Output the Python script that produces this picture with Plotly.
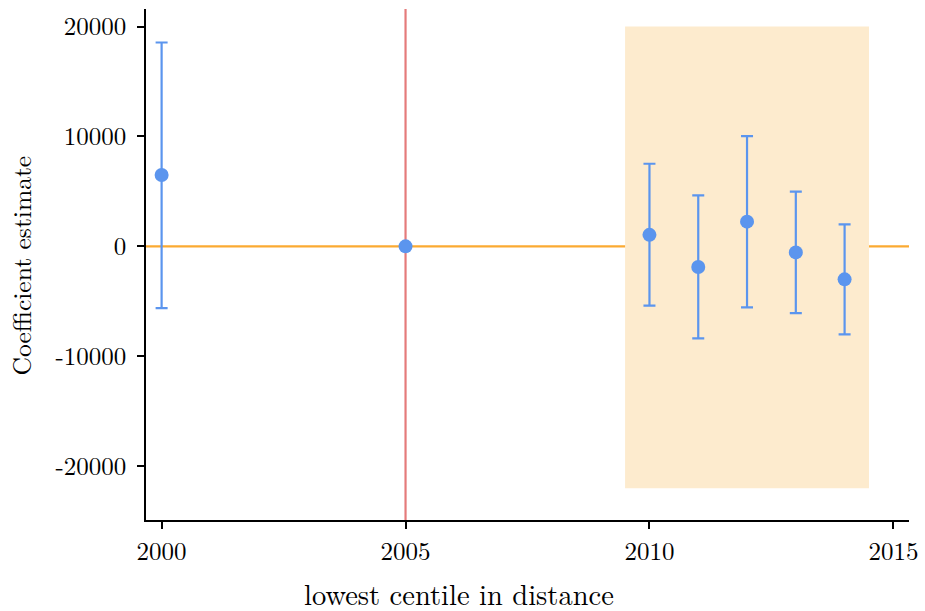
import plotly.graph_objects as go

years = [2000, 2005, 2010, 2011, 2012, 2013, 2014]
estimate = [6500, 0, 1050, -1880, 2250, -550, -3000]
ci_low = [-5620, 0, -5400, -8370, -5550, -6070, -8010]
ci_high = [18550, 0, 7520, 4640, 10040, 4980, 2000]

x_ticks = [2000, 2005, 2010, 2015]
y_ticks = [-20000, -10000, 0, 10000, 20000]
y_ticklabels = ["-20000", "-10000", "0", "10000", "20000"]

shade_x = [2009.5, 2014.5]
shade_y = [-22000, 20000]
ref_year = 2005
ref_value = 0

x_range = [1999.68, 2015.32]
y_range = [-24900, 21600]

err_plus = [h - e for h, e in zip(ci_high, estimate)]
err_minus = [e - l for e, l in zip(estimate, ci_low)]

blue = "#5B95EE"
font_family = "Latin Modern Roman, CMU Serif, Liberation Serif, serif"

fig = go.Figure()
fig.add_trace(go.Scatter(
    x=years, y=estimate, mode="markers",
    marker=dict(color=blue, size=14),
    error_y=dict(type="data", symmetric=False, array=err_plus, arrayminus=err_minus,
                 color=blue, thickness=2.2, width=6),
    showlegend=False, hoverinfo="x+y",
))

fig.add_shape(type="rect", xref="x", yref="y", x0=shade_x[0], x1=shade_x[1],
              y0=shade_y[0], y1=shade_y[1], fillcolor="#FDEBCE", line=dict(width=0), layer="below")
fig.add_shape(type="line", xref="paper", yref="y", x0=0, x1=1, y0=ref_value, y1=ref_value,
              line=dict(color="#FBAA32", width=2.2), layer="below")
fig.add_shape(type="line", xref="x", yref="paper", x0=ref_year, x1=ref_year, y0=0, y1=1,
              line=dict(color="#E57B7B", width=2.2), layer="below")

fig.update_layout(
    width=925, height=611,
    margin=dict(l=146, r=14, t=7, b=91),
    paper_bgcolor="white", plot_bgcolor="white",
    font=dict(family=font_family, size=26, color="black"),
    xaxis=dict(range=x_range, tickvals=x_ticks, ticktext=[str(t) for t in x_ticks],
               showgrid=False, zeroline=False, showline=True, linecolor="black", linewidth=1.5,
               ticks="outside", ticklen=7, tickwidth=1.5, tickcolor="black",
               ticklabelstandoff=1, tickfont=dict(size=25)),
    yaxis=dict(range=y_range, tickvals=y_ticks, ticktext=y_ticklabels,
               showgrid=False, zeroline=False, showline=True, linecolor="black", linewidth=1.5,
               ticks="outside", ticklen=7, tickwidth=1.5, tickcolor="black",
               ticklabelstandoff=6, tickfont=dict(size=25)),
    annotations=[
        dict(text="lowest centile in distance", xref="paper", yref="paper",
             x=(460 - 146) / 765, y=0, yshift=-73, xanchor="center", yanchor="middle",
             showarrow=False, font=dict(size=28.5)),
        dict(text="Coefficient estimate", xref="paper", yref="paper",
             x=0, xshift=-127, y=0.5, yshift=-1, xanchor="center", yanchor="middle", textangle=-90,
             showarrow=False, font=dict(size=25.5)),
    ],
)

fig.write_html("out.html", config={"displayModeBar": False},
               post_script="document.body.style.margin='0';")
